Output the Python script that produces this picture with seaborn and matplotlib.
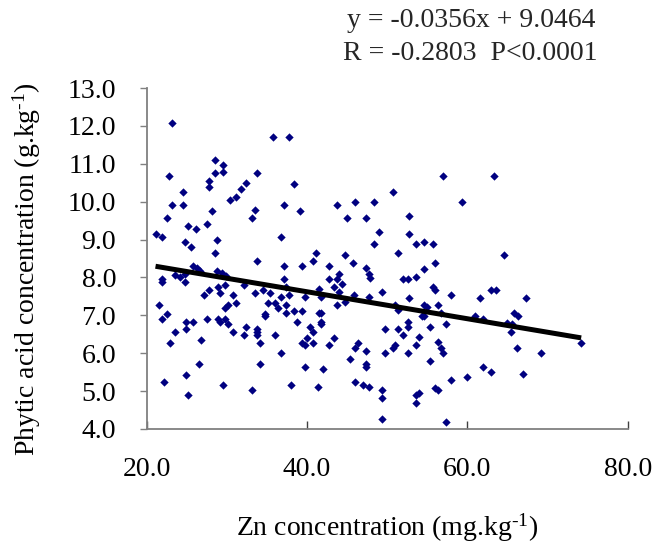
import numpy as np
import pandas as pd
import matplotlib
matplotlib.use("Agg")
import matplotlib.pyplot as plt
import seaborn as sns

# Zn concentration (mg/kg)
zn = [23.1, 35.8, 37.7, 28.5, 29.5, 28.5, 29.5, 33.8, 22.8, 27.8,
      27.8, 32.4, 31.8, 24.5, 31.2, 30.4, 23.2, 24.5, 33.5, 28.1,
      22.5, 33.1, 27.5, 25.1, 26.2, 21.1, 21.9, 36.8, 28.8, 24.8,
      25.5, 28.5, 33.8, 25.8, 26.3, 26.6, 28.8, 29.4, 29.9, 23.5,
      24.2, 21.9, 24.8, 38.4, 50.7, 37.1, 39.1, 43.8, 46.0, 48.3,
      45.0, 47.3, 52.7, 49.0, 52.7, 48.4, 41.1, 44.7, 51.3, 40.8,
      37.1, 39.4, 42.7, 45.7, 47.3, 44.0, 47.7, 47.9, 37.1, 42.7,
      43.8, 52.0, 52.6, 56.9, 63.3, 59.3, 53.6, 54.6, 55.7, 64.6,
      56.0, 54.6, 53.6, 21.9, 24.8, 28.9, 29.8, 27.8, 27.2, 29.2,
      30.8, 32.1, 33.5, 34.5, 35.4, 31.2, 21.5, 22.5, 21.9, 24.9,
      25.8, 27.5, 28.9, 29.2, 29.8, 30.2, 29.8, 30.2, 35.1, 36.0,
      36.4, 34.8, 34.8, 24.9, 23.5, 30.8, 32.4, 32.1, 33.8, 33.8,
      33.8, 36.0, 22.9, 26.8, 34.1, 36.8, 26.5, 34.1, 24.9, 22.2,
      29.5, 33.1, 25.2, 43.4, 44.4, 44.0, 44.7, 43.8, 37.4, 36.8,
      37.7, 39.7, 41.5, 41.7, 45.8, 47.7, 49.4, 37.4, 37.4, 38.4,
      39.4, 38.8, 41.5, 41.7, 41.7, 41.8, 40.4, 40.8, 40.0, 39.4,
      39.7, 40.8, 43.4, 42.7, 39.7, 42.0, 38.0, 41.4, 46.3, 46.0,
      45.3, 47.3, 47.3, 47.3, 46.0, 47.0, 47.7, 49.4, 49.4, 49.4,
      49.7, 51.3, 52.0, 49.7, 50.7, 51.0, 52.6, 51.3, 51.0, 52.6,
      52.6, 55.7, 56.0, 52.7, 58.0, 61.6, 62.9, 63.6, 67.3, 54.6,
      55.0, 56.3, 56.7, 54.3, 54.6, 55.3, 57.3, 60.9, 62.0, 65.8,
      66.3, 65.0, 65.6, 65.5, 54.0, 53.6, 56.3, 56.7, 57.0, 55.3,
      66.2, 69.2, 74.2, 62.0, 62.9, 66.9, 58.0, 60.0, 56.0, 56.3,
      54.0, 53.6, 53.6, 57.3]

# phytic acid concentration (g/kg)
phytic = [12.07, 11.72, 11.72, 11.10, 10.97, 10.75, 10.79, 10.75, 10.68, 10.55,
          10.40, 10.49, 10.33, 10.26, 10.12, 10.05, 9.91, 9.91, 9.78, 9.76,
          9.56, 9.56, 9.42, 9.35, 9.28, 9.14, 9.07, 9.07, 9.00, 8.93,
          8.80, 8.65, 8.44, 8.31, 8.24, 8.17, 8.17, 8.11, 8.05, 8.07,
          8.02, 7.95, 8.09, 10.47, 10.26, 9.91, 9.76, 9.91, 9.98, 9.98,
          9.56, 9.56, 9.62, 9.21, 9.14, 8.87, 8.65, 8.59, 8.65, 8.44,
          8.31, 8.31, 8.31, 8.37, 8.24, 8.10, 8.10, 7.99, 7.97, 7.97,
          7.97, 7.97, 7.97, 10.67, 10.67, 9.98, 8.87, 8.93, 8.87, 8.58,
          8.37, 8.23, 8.02, 7.88, 7.88, 7.76, 7.81, 7.67, 7.53, 7.60,
          7.53, 7.81, 7.60, 7.67, 7.60, 7.33, 7.26, 7.04, 6.90, 6.83,
          6.83, 6.90, 6.90, 6.83, 6.90, 6.77, 7.19, 7.26, 7.33, 7.33,
          7.19, 7.04, 6.97, 6.63, 6.56, 6.56, 6.70, 6.48, 6.63, 6.56,
          6.48, 6.49, 6.28, 6.35, 6.28, 6.00, 5.72, 5.72, 5.43, 5.23,
          5.16, 5.03, 4.89, 7.76, 7.83, 7.62, 7.35, 7.27, 7.76, 7.48,
          7.53, 7.48, 7.69, 7.48, 7.53, 7.48, 7.62, 7.27, 7.05, 7.12,
          7.12, 6.83, 7.05, 7.05, 6.83, 6.77, 6.70, 6.56, 6.41, 6.28,
          6.22, 6.28, 6.41, 6.22, 5.64, 5.58, 5.16, 5.10, 6.28, 6.14,
          5.86, 6.07, 5.72, 5.64, 5.23, 5.16, 5.10, 5.03, 4.81, 4.26,
          6.63, 6.63, 6.49, 6.00, 6.14, 6.21, 6.00, 7.14, 7.27, 6.83,
          6.70, 7.76, 7.67, 7.47, 7.54, 7.47, 7.67, 7.67, 7.47, 7.27,
          7.21, 7.26, 7.05, 6.98, 6.98, 6.70, 6.77, 6.98, 6.91, 7.05,
          6.98, 6.79, 6.77, 6.55, 6.42, 6.21, 6.29, 6.14, 6.00, 5.80,
          6.14, 6.00, 6.28, 5.64, 5.51, 5.44, 5.30, 5.37, 5.09, 5.03,
          4.96, 4.89, 4.68, 4.18]

# fitted line and stats printed on the chart
slope = -0.0356
intercept = 9.0464
r_value = -0.2803

xticks = [20.0, 40.0, 60.0, 80.0]
yticks = [4.0, 5.0, 6.0, 7.0, 8.0, 9.0, 10.0, 11.0, 12.0, 13.0]

df = pd.DataFrame({'zn': zn, 'phytic': phytic})

sns.set_theme(style='ticks')
plt.rcParams['font.family'] = ['Liberation Serif', 'DejaVu Serif']
plt.rcParams['mathtext.default'] = 'regular'
fs = 20

fig = plt.figure(figsize=(6.52, 5.44), dpi=100)
ax = fig.add_axes([0.225, 0.2114, 0.7377, 0.6268])

sns.scatterplot(data=df, x='zn', y='phytic', marker='D', color='#000080',
                s=18, linewidth=0, ax=ax, zorder=3)

xs = np.array([df.zn.min(), df.zn.max()])
ax.plot(xs, slope * xs + intercept, color='black', lw=3.6,
        solid_capstyle='butt', zorder=4)

ax.set_xlim(xticks[0], xticks[-1])
ax.set_ylim(yticks[0], yticks[-1])
ax.set_xticks(xticks)
ax.set_yticks(yticks)
ax.set_xticklabels([f'{v:.1f}' for v in xticks])
ax.set_yticklabels([f'{v:.1f}' for v in yticks])

sns.despine(ax=ax)
for side in ['left', 'bottom']:
    ax.spines[side].set_color('#808080')
    ax.spines[side].set_linewidth(1.3)

ax.tick_params(axis='y', direction='out', length=5, width=1, color='#808080',
               pad=17, labelsize=fs, labelcolor='black')
ax.tick_params(axis='x', direction='in', length=6, width=1, color='#404040',
               pad=20, labelsize=fs, labelcolor='black')

ax.set_xlabel('Zn concentration (mg.kg$^{\u20101}$)', fontsize=fs, color='black')
ax.set_ylabel('Phytic acid concentration (g.kg$^{\u20101}$)', fontsize=fs, color='black')
ax.xaxis.set_label_coords(0.5, -0.243)
ax.yaxis.set_label_coords(-0.216, 0.469)

fig.text(0.722, 0.962, f'y = {slope}x + {intercept}', ha='center', va='center',
         fontsize=fs)
fig.text(0.722, 0.901, f'R = {r_value}  P<0.0001', ha='center', va='center',
         fontsize=fs)

fig.savefig('out.png', dpi=100, facecolor='white')
